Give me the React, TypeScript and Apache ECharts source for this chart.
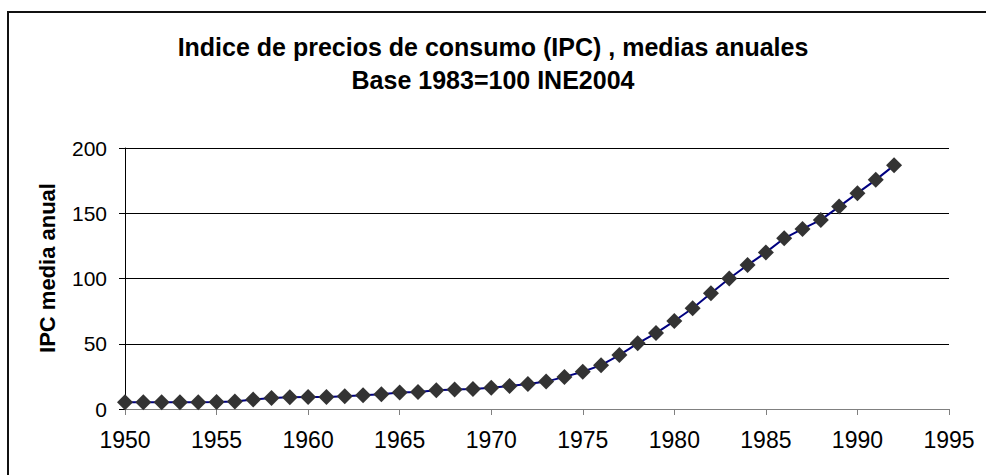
import React, { useEffect, useRef } from "react";
import * as echarts from "echarts";

const years: number[] = [
  1950, 1951, 1952, 1953, 1954, 1955, 1956, 1957, 1958, 1959,
  1960, 1961, 1962, 1963, 1964, 1965, 1966, 1967, 1968, 1969,
  1970, 1971, 1972, 1973, 1974, 1975, 1976, 1977, 1978, 1979,
  1980, 1981, 1982, 1983, 1984, 1985, 1986, 1987, 1988, 1989,
  1990, 1991, 1992,
];
const ipc: number[] = [
  5.1, 5.2, 5.2, 5.2, 5.2, 5.3, 5.7, 7.2, 8.5, 9.0,
  9.1, 9.2, 9.8, 10.5, 11.3, 12.6, 13.1, 14.4, 14.9, 15.4,
  16.2, 17.7, 19.2, 21.0, 24.6, 28.5, 33.6, 41.3, 50.3, 58.2,
  67.4, 77.2, 88.7, 100.0, 110.3, 120.0, 130.8, 138.0, 144.9, 155.1,
  165.4, 175.6, 186.7,
];
const titleLines: string[] = [
  "Indice de precios de consumo (IPC) , medias anuales",
  "Base 1983=100 INE2004",
];
const yAxisTitle = "IPC media anual";

export default function App() {
  const ref = useRef<HTMLDivElement>(null);
  useEffect(() => {
    if (!ref.current) return;
    const chart = echarts.init(ref.current, null, { renderer: "svg" });
    const font = "Liberation Sans";
    chart.setOption({
      animation: false,
      backgroundColor: "#ffffff",
      title: {
        text: titleLines.join("\n"),
        left: "center",
        top: 30,
        padding: 0,
        textStyle: {
          fontFamily: font,
          fontSize: 25,
          fontWeight: "bold",
          color: "#000",
          lineHeight: 33,
        },
      },
      grid: { left: 125, right: 37, top: 148, bottom: 66, containLabel: false },
      xAxis: {
        type: "value",
        min: 1950,
        max: 1995,
        interval: 5,
        axisLine: { show: true, lineStyle: { color: "#808080", width: 1 } },
        axisTick: { show: true, inside: false, length: 6, lineStyle: { color: "#808080" } },
        splitLine: { show: false },
        axisLabel: {
          margin: 19,
          color: "#000",
          fontFamily: font,
          fontSize: 23,
          formatter: (v: number) => String(v),
        },
      },
      yAxis: {
        type: "value",
        min: 0,
        max: 200,
        interval: 50,
        axisLine: { show: true, lineStyle: { color: "#000", width: 1 } },
        axisTick: { show: true, inside: false, length: 6, lineStyle: { color: "#000" } },
        splitLine: { show: true, lineStyle: { color: "#000", width: 1 } },
        axisLabel: {
          margin: 18,
          color: "#000",
          fontFamily: font,
          fontSize: 21,
        },
      },
      graphic: [
        {
          type: "rect",
          shape: { x: 8, y: 12, width: 990, height: 480 },
          style: { fill: "none", stroke: "#111", lineWidth: 2 },
          silent: true,
        },
        {
          type: "text",
          x: 47,
          y: 268,
          rotation: Math.PI / 2,
          style: {
            text: yAxisTitle,
            fontFamily: font,
            fontSize: 22,
            fontWeight: "bold",
            fill: "#000",
            align: "center",
            verticalAlign: "middle",
          },
        },
      ],
      series: [
        {
          type: "line",
          data: years.map((y, i) => [y, ipc[i]]),
          lineStyle: { color: "#000080", width: 2 },
          itemStyle: { color: "#333333" },
          symbol: "diamond",
          symbolSize: 16,
          showSymbol: true,
          z: 3,
        },
      ],
    });
    return () => chart.dispose();
  }, []);
  return (
    <div
      ref={ref}
      style={{ position: "absolute", left: 0, top: 0, width: 986, height: 475 }}
    />
  );
}
